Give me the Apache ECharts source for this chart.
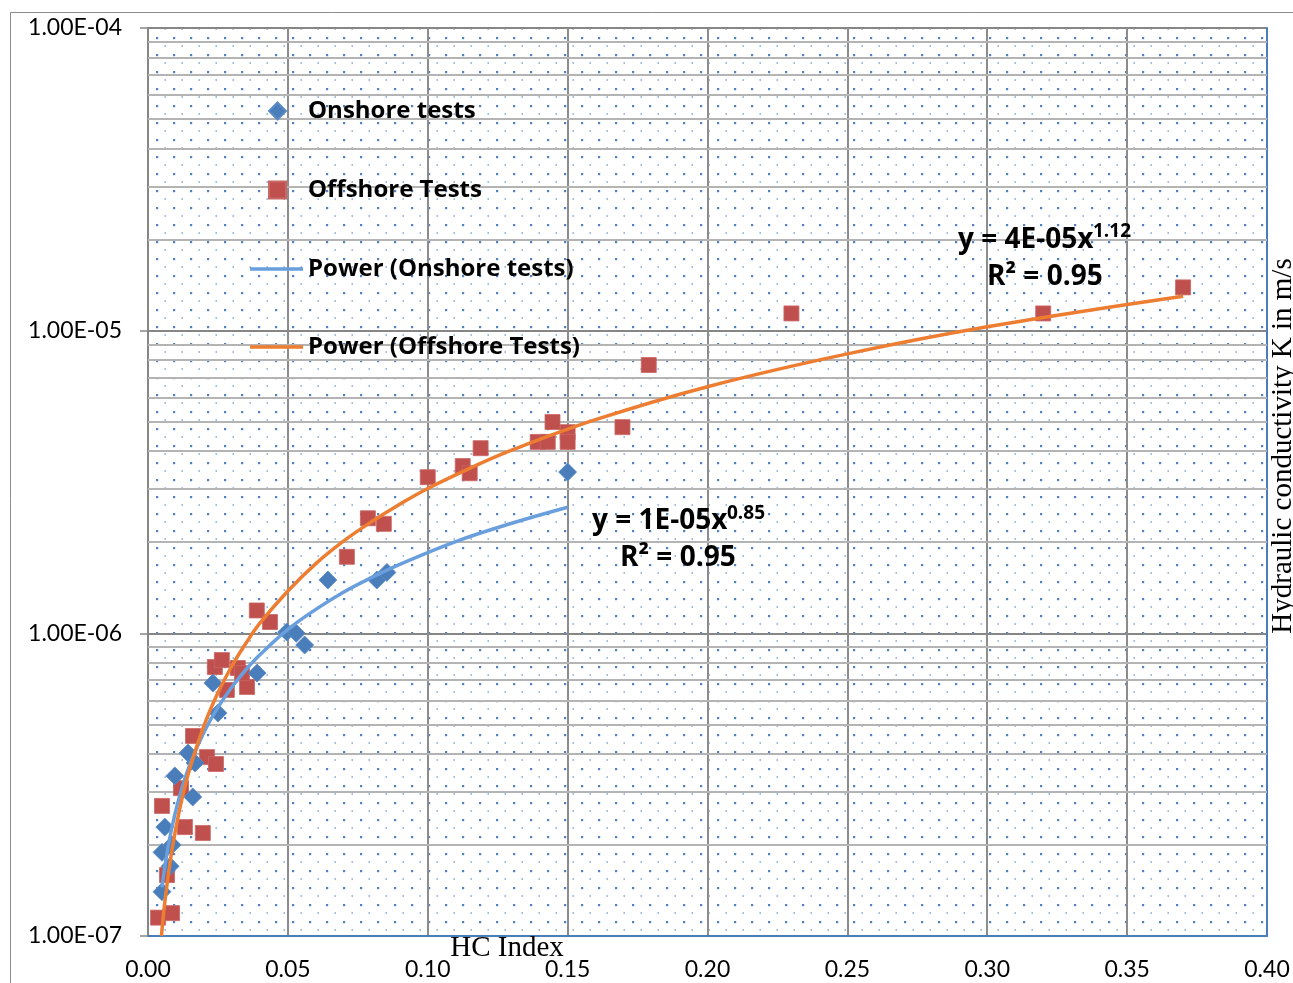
<!DOCTYPE html>
<html><head><meta charset="utf-8">
<script src="https://cdn.jsdelivr.net/npm/echarts@6/dist/echarts.min.js"></script>
<style>html,body{margin:0;padding:0;background:#fff;overflow:hidden}#c{width:1293px;height:983px}</style>
</head><body><div id="c"></div>
<script>
// ---- data ----
const onshoreX = [0.005,0.0079,0.005,0.0086,0.006,0.0096,0.016,0.0143,0.0168,0.0232,0.025,0.039,0.0496,0.053,0.056,0.0643,0.0818,0.0854,0.15];
const onshoreY = [1.40e-7,1.70e-7,1.89e-7,2.0e-7,2.29e-7,3.38e-7,2.88e-7,4.02e-7,3.73e-7,6.85e-7,5.45e-7,7.39e-7,1.01e-6,1.0e-6,9.15e-7,1.5e-6,1.5e-6,1.59e-6,3.41e-6];
const offshoreX = [0.0036,0.0086,0.0068,0.005,0.0132,0.0196,0.0118,0.0211,0.0243,0.0161,0.0282,0.0354,0.0321,0.0239,0.0264,0.0336,0.0389,0.0436,0.0711,0.0786,0.0843,0.10,0.1125,0.115,0.1189,0.1393,0.1429,0.1446,0.15,0.15,0.1696,0.179,0.23,0.32,0.37];
const offshoreY = [1.15e-7,1.19e-7,1.59e-7,2.69e-7,2.29e-7,2.19e-7,3.08e-7,3.9e-7,3.7e-7,4.58e-7,6.5e-7,6.65e-7,7.68e-7,7.74e-7,8.16e-7,7.39e-7,1.19e-6,1.09e-6,1.79e-6,2.40e-6,2.30e-6,3.28e-6,3.57e-6,3.38e-6,4.09e-6,4.29e-6,4.29e-6,4.99e-6,4.62e-6,4.29e-6,4.8e-6,7.7e-6,1.14e-5,1.14e-5,1.39e-5];
// trend curves, points
const onshoreTrendX = [0.005,0.006,0.007,0.008,0.01,0.012,0.015,0.02,0.025,0.03,0.035,0.04,0.05,0.06,0.07,0.08,0.09,0.11,0.13,0.15];
const onshoreTrendY = [1.45e-7,1.69e-7,1.93e-7,2.16e-7,2.61e-7,3.05e-7,3.69e-7,4.71e-7,5.69e-7,6.65e-7,7.58e-7,8.49e-7,1.03e-6,1.20e-6,1.37e-6,1.53e-6,1.69e-6,2.01e-6,2.31e-6,2.61e-6];
const offshoreTrendX = [0.0048,0.006,0.008,0.01,0.012,0.015,0.02,0.025,0.03,0.035,0.04,0.05,0.06,0.07,0.08,0.09,0.10,0.115,0.13,0.16,0.20,0.25,0.30,0.37];
const offshoreTrendY = [1.0e-7,1.29e-7,1.78e-7,2.28e-7,2.80e-7,3.59e-7,4.95e-7,6.36e-7,7.80e-7,9.27e-7,1.08e-6,1.38e-6,1.70e-6,2.02e-6,2.34e-6,2.67e-6,3.01e-6,3.51e-6,4.03e-6,5.08e-6,6.53e-6,8.38e-6,1.03e-5,1.30e-5];
const seriesNames = ['Onshore tests','Offshore Tests','Power (Onshore tests)','Power (Offshore Tests)'];
const xTickLabels = ['0.00','0.05','0.10','0.15','0.20','0.25','0.30','0.35','0.40'];
const yTickLabels = ['1.00E-07','1.00E-06','1.00E-05','1.00E-04'];
const minorMultipliers = [2,3,4,5,6,7,8,9];
const decades = [1e-7,1e-6,1e-5];

const minorLevels = [];
decades.forEach(d => minorMultipliers.forEach(m => minorLevels.push(m * d)));
const zip = (xs, ys) => xs.map((x, i) => [x, ys[i]]);

// dotted plot-area fill
const pc = document.createElement('canvas');
pc.width = 17; pc.height = 17;
const g = pc.getContext('2d');
g.fillStyle = '#fff'; g.fillRect(0,0,17,17);
g.fillStyle = '#4f81c4'; g.fillRect(3,3,2.2,2.2);
g.fillStyle = '#6d95cf'; g.fillRect(11.5,11.3,1.4,1.4);

const chart = echarts.init(document.getElementById('c'), null, {renderer:'canvas'});
const font = 'Lato';
const eqFont = 'bold 28px "Open Sans"';
const supFont = 'bold 19px "Open Sans"';
chart.setOption({
  animation: false,
  backgroundColor: '#fff',
  grid: {left:148, right:26, top:28, bottom:47, show:true, borderWidth:0, containLabel:false,
         outerBoundsMode:'none',
         backgroundColor:{image: pc, repeat:'repeat'}},
  xAxis: {type:'value', min:0, max:0.4, interval:0.05,
    axisLine:{show:true, lineStyle:{color:'#4a7ebb', width:2}},
    axisTick:{show:false},
    axisLabel:{fontFamily:font, fontSize:23, color:'#000', margin:22,
      formatter: v => xTickLabels[Math.round(v/0.05)]},
    splitLine:{show:true, lineStyle:{color:'#8c8c8c', width:2}}},
  yAxis: [{type:'log', logBase:10, min:1e-7, max:1e-4,
    axisLine:{show:true, lineStyle:{color:'#868686', width:2}},
    axisTick:{show:true, length:8, lineStyle:{color:'#868686', width:1.5}},
    axisLabel:{fontFamily:font, fontSize:23, color:'#000', margin:26,
      formatter: v => yTickLabels[Math.round(Math.log10(v)) + 7]},
    splitLine:{show:true, lineStyle:{color:'#868686', width:2}},
    minorTick:{show:false}, minorSplitLine:{show:false}},
    {type:'log', logBase:10, min:1e-7, max:1e-4, position:'right',
    axisLine:{show:true, lineStyle:{color:'#4a7ebb', width:2}},
    axisTick:{show:false}, axisLabel:{show:false}, splitLine:{show:false}}],
  legend: [{orient:'vertical', left:268, top:96, padding:0, itemGap:49,
      itemWidth:17, itemHeight:17,
      data:[{name:seriesNames[0], icon:'diamond'},{name:seriesNames[1], icon:'rect'}],
      textStyle:{fontFamily:'Open Sans', fontWeight:'bold', fontSize:24, color:'#000', lineHeight:30, padding:[0,0,0,17]}},
    {orient:'vertical', left:250, top:254, padding:0, itemGap:48,
      itemWidth:53, itemHeight:3.5,
      data:[{name:seriesNames[2], icon:'rect'}, {name:seriesNames[3], icon:'rect'}],
      textStyle:{fontFamily:'Open Sans', fontWeight:'bold', fontSize:24, color:'#000', lineHeight:30}}],
  series: [
    {type:'lines', name:'minor', coordinateSystem:'cartesian2d', silent:true, z:1,
     lineStyle:{color:'#b4b4b4', width:2.2, type:'solid', opacity:1},
     data: minorLevels.map(v => ({coords:[[0, v],[0.4, v]]}))},
    {type:'scatter', name:seriesNames[1], data:zip(offshoreX, offshoreY), symbol:'rect', symbolSize:15, z:3,
     itemStyle:{color:'#c0504d', opacity:1, borderColor:'#c96764', borderWidth:0.8}},
    {type:'scatter', name:seriesNames[0], data:zip(onshoreX, onshoreY), symbol:'diamond', symbolSize:18, z:3,
     itemStyle:{color:'#4a7ebb', opacity:1, borderColor:'#5b8ac4', borderWidth:0.8}},
    {type:'line', name:seriesNames[2], data:zip(onshoreTrendX, onshoreTrendY), smooth:0.4, symbol:'none', z:4,
     lineStyle:{color:'#6a9fdd', width:3.5}, itemStyle:{color:'#6a9fdd'}},
    {type:'line', name:seriesNames[3], data:zip(offshoreTrendX, offshoreTrendY), smooth:0.4, symbol:'none', z:4,
     lineStyle:{color:'#ed7d31', width:3.5}, itemStyle:{color:'#ed7d31'}}
  ],
  graphic: [
    {type:'rect', shape:{x:10.5, y:12.5, width:1400, height:1100}, silent:true, z:-1,
     style:{fill:'none', stroke:'#8c8c8c', lineWidth:1}},
    {type:'text', x:958, y:240, z:10, style:{text:'y = 4E-05x', font:eqFont, fill:'#000', align:'left', verticalAlign:'middle'}},
    {type:'text', x:1093, y:232, z:10, style:{text:'1.12', font:supFont, fill:'#000', align:'left', verticalAlign:'middle'}},
    {type:'text', x:987, y:277, z:10, style:{text:'R² = 0.95', font:eqFont, fill:'#000', align:'left', verticalAlign:'middle'}},
    {type:'text', x:592, y:521, z:10, style:{text:'y = 1E-05x', font:eqFont, fill:'#000', align:'left', verticalAlign:'middle'}},
    {type:'text', x:727, y:514, z:10, style:{text:'0.85', font:supFont, fill:'#000', align:'left', verticalAlign:'middle'}},
    {type:'text', x:620, y:558, z:10, style:{text:'R² = 0.95', font:eqFont, fill:'#000', align:'left', verticalAlign:'middle'}},
    {type:'text', x:507, y:948, z:10,
     style:{text:'HC Index', font:'29px "Liberation Serif"', fill:'#000', align:'center', verticalAlign:'middle'}},
    {type:'text', x:1283, y:446, rotation:Math.PI/2, z:10,
     style:{text:'Hydraulic conductivity K in m/s', font:'29px "Liberation Serif"', fill:'#000', align:'center', verticalAlign:'middle'}}
  ]
});
</script></body></html>
